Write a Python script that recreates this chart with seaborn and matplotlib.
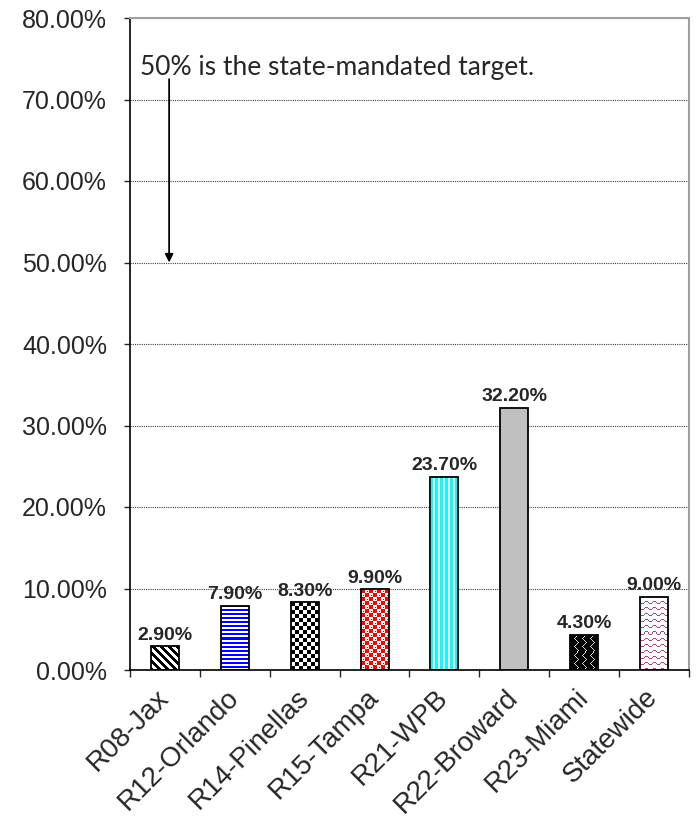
import numpy as np
import pandas as pd
import matplotlib
matplotlib.use("Agg")
import matplotlib.pyplot as plt
import seaborn as sns

regions = ["R08-Jax", "R12-Orlando", "R14-Pinellas", "R15-Tampa",
           "R21-WPB", "R22-Broward", "R23-Miami", "Statewide"]
rates = [2.9, 7.9, 8.3, 9.9, 23.7, 32.2, 4.3, 9.0]
y_ticks = [0, 10, 20, 30, 40, 50, 60, 70, 80]
target = 50
note = "50% is the state-mandated target."
fills = ["diag", "hstripe", "checker", "dots", "vstripe", "solid", "wire", "wave"]

sns.set_style("white")
plt.rcParams["font.family"] = ["Liberation Sans", "DejaVu Sans"]


def hex_rgb(h):
    return np.array([int(h[k:k + 2], 16) for k in (1, 3, 5)]) / 255.0


def texture(kind, h, w):
    """Pixel-level fill pattern for one bar."""
    i, j = np.mgrid[0:h, 0:w]
    img = np.ones((h, w, 3))
    if kind == "diag":
        img[((j - i) % 8) < 4] = 0.0
    elif kind == "hstripe":
        img[(i % 4) < 2] = hex_rgb("#0000FF")
    elif kind == "checker":
        img[((i // 4) + (j // 4)) % 2 == 0] = 0.0
    elif kind == "dots":
        red = hex_rgb("#FF0000")
        cell = ((i // 4) + (j // 4)) % 2 == 0
        img[cell] = red
        img[(~cell) & (i % 4 == 2) & (j % 4 == 2)] = red
    elif kind == "vstripe":
        img[(j % 5) < 3] = hex_rgb("#00FFFF")
    elif kind == "wire":
        img[:] = 0.0
        band = (i // 4) % 2 == 0
        white = (band & ((i + j) % 8 == 0)) | (~band & ((j - i) % 8 == 0))
        img[white] = 0.85
    elif kind == "wave":
        off = np.round(1.3 * np.sin(2 * np.pi * j / 8)).astype(int)
        img[((i - off) % 6) == 0] = hex_rgb("#B04080")
    return img


fig = plt.figure(figsize=(6.98, 8.24), dpi=100)
ax = fig.add_axes([130 / 698, 1 - 670 / 824, (689 - 130) / 698, (670 - 18) / 824])

df = pd.DataFrame({"region": regions, "rate": rates})
sns.barplot(data=df, x="region", y="rate", ax=ax, width=0.4, color="white",
            saturation=1, errorbar=None)
ax.set_xlim(-0.5, len(regions) - 0.5)
ax.set_ylim(y_ticks[0], y_ticks[-1])

bars = ax.containers[0]
for patch, kind in zip(bars.patches, fills):
    patch.set_edgecolor("black")
    patch.set_linewidth(1.3)
    patch.set_zorder(3)
    if kind == "solid":
        patch.set_facecolor("#C0C0C0")
        continue
    patch.set_facecolor("none")
    bb = patch.get_window_extent()
    w = max(int(round(bb.width)), 1)
    h = max(int(round(bb.height)), 1)
    x0, y0 = patch.get_x(), patch.get_y()
    im = ax.imshow(texture(kind, h, w), origin="upper", interpolation="nearest",
                   aspect="auto", zorder=2,
                   extent=(x0, x0 + patch.get_width(), y0, y0 + patch.get_height()))
    im.set_clip_path(patch)

ax.set_xlim(-0.5, len(regions) - 0.5)
ax.set_ylim(y_ticks[0], y_ticks[-1])

ax.bar_label(bars, labels=[f"{v:.2f}%" for v in rates], padding=2,
             fontsize=14, fontweight="bold")

# y axis
ax.set_yticks(y_ticks)
ax.set_yticklabels([f"{t:.2f}%" for t in y_ticks], fontsize=18)
ax.tick_params(axis="y", which="major", direction="out", length=4.5, width=1,
               pad=12, left=True)

# x axis: labels at centres, tick marks between categories
ax.set_xticks(range(len(regions)))
ax.set_xticklabels(regions, rotation=45, ha="right", va="center",
                   rotation_mode="anchor", fontsize=20)
ax.tick_params(axis="x", which="major", length=0, pad=17)
ax.set_xticks(np.arange(-0.5, len(regions)), minor=True)
ax.tick_params(axis="x", which="minor", direction="out", length=5, width=1,
               bottom=True)
ax.set_xlabel("")
ax.set_ylabel("")

ax.yaxis.grid(True, linestyle=(0, (1, 1)), color="#404040", linewidth=0.8)
ax.set_axisbelow(True)

for side in ("left", "bottom"):
    ax.spines[side].set_color("black")
    ax.spines[side].set_linewidth(1.2)
for side in ("top", "right"):
    ax.spines[side].set_color("#A0A0A0")
    ax.spines[side].set_linewidth(1.5)

# target annotation
ax.annotate("", xy=(0.06, target), xytext=(0.06, 72.5),
            arrowprops=dict(arrowstyle="-|>", color="black", lw=1.3,
                            mutation_scale=12, shrinkA=0, shrinkB=0))
ax.text(-0.36, 73.9, note, fontsize=19, family=["Lato", "DejaVu Sans"],
        va="center", ha="left")

fig.savefig("out.png", dpi=100)
